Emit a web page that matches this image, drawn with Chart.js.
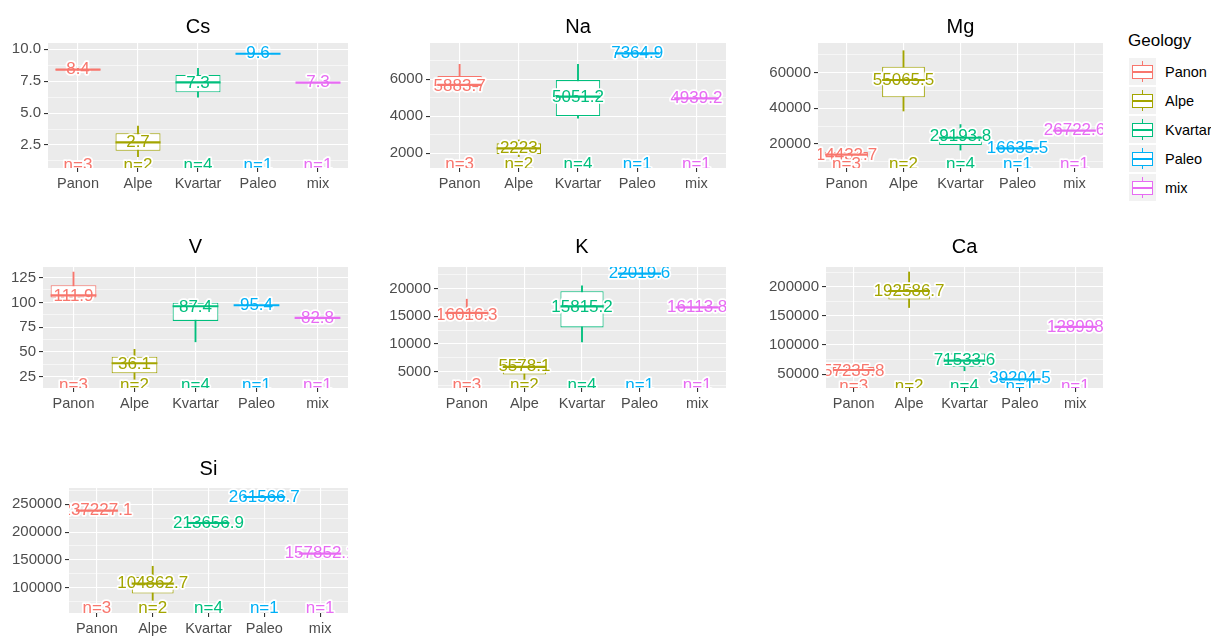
<!DOCTYPE html>
<html>
<head>
<meta charset="utf-8">
<script src="https://cdn.jsdelivr.net/npm/chart.js@4.4.1/dist/chart.umd.min.js"></script>
<style>
  body { margin: 0; background: #fff; width: 1211px; height: 637px; overflow: hidden; position: relative;
         font-family: "Liberation Sans", Arial, sans-serif; }
  canvas { position: absolute; }
  #legend { position: absolute; left: 1128px; top: 29px; color: #000; }
  #legend .lt { font-size: 17px; height: 24px; line-height: 24px; margin-bottom: 4px; }
  #legend .row { height: 29px; display: flex; align-items: center; }
  #legend .key { position: relative; width: 27px; height: 27px; margin-left: 1px; background: #F2F2F2; }
  #legend .wh { position: absolute; left: 13px; top: 3px; width: 1px; height: 21px; }
  #legend .bx { position: absolute; left: 3px; top: 7px; width: 21px; height: 14px; box-sizing: border-box;
                border: 1px solid; background: #fff; }
  #legend .md { position: absolute; left: 0; right: 0; top: 5px; height: 1.5px; }
  #legend span { margin-left: 9px; font-size: 14.5px; }
</style>
</head>
<body>
<div id="legend"></div>
<script>
const groups = ['Panon', 'Alpe', 'Kvartar', 'Paleo', 'mix']
const counts = [3, 2, 4, 1, 1]
const colors = ['#F8766D', '#A3A500', '#00BF7D', '#00B0F6', '#E76BF3']

// each box: [lower whisker, q1, median, q3, upper whisker]
const csBoxes = [[8.3, 8.35, 8.4, 8.45, 8.5], [1.58, 2.05, 2.71, 3.42, 3.99], [6.24, 6.63, 7.4, 7.99, 8.51], [9.65, 9.65, 9.65, 9.65, 9.65], [7.38, 7.38, 7.38, 7.38, 7.38]]
const csLabels = ['8.4', '2.7', '7.3', '9.6', '7.3']
const csLabelY = [8.4, 2.71, 7.3, 9.65, 7.38]
const csTicks = [2.5, 5.0, 7.5, 10.0]
const csRange = [0.7, 10.49]
const csCountY = 0.93

const naBoxes = [[5560, 5580, 5700, 6180, 6810], [1820, 1960, 2270, 2540, 2720], [3892, 4016, 5060, 5960, 6811], [7405, 7405, 7405, 7405, 7405], [4973, 4973, 4973, 4973, 4973]]
const naLabels = ['5883.7', '2223', '5051.2', '7364.9', '4939.2']
const naLabelY = [5620, 2270, 5051, 7405, 4973]
const naTicks = [2000, 4000, 6000]
const naRange = [1205, 7962]
const naCountY = 1405

const mgBoxes = [[10500, 12000, 14000, 15500, 16500], [38510, 46200, 55900, 63370, 72340], [16600, 19400, 23500, 24300, 30900], [17600, 17600, 17600, 17600, 17600], [27460, 27460, 27460, 27460, 27460]]
const mgLabels = ['14432.7', '55065.5', '29193.8', '16635.5', '26722.6']
const mgLabelY = [13830, 55900, 24500, 17600, 27460]
const mgTicks = [20000, 40000, 60000]
const mgRange = [6540, 76660]
const mgCountY = 8440

const vBoxes = [[104.9, 104.9, 107, 117.3, 130.6], [22.4, 28.4, 38.6, 45.2, 52.6], [60.2, 81.3, 96.1, 99.7, 99.7], [97.1, 97.1, 97.1, 97.1, 97.1], [84.4, 84.4, 84.4, 84.4, 84.4]]
const vLabels = ['111.9', '36.1', '87.4', '95.4', '82.8']
const vLabelY = [106, 38, 95.4, 97.1, 84.4]
const vTicks = [25, 50, 75, 100, 125]
const vRange = [13.6, 135.7]
const vCountY = 16.7

const kBoxes = [[14800, 15000, 15600, 16200, 18080], [3630, 4500, 5900, 6800, 7580], [10400, 12990, 16800, 19510, 20470], [22700, 22700, 22700, 22700, 22700], [16600, 16600, 16600, 16600, 16600]]
const kLabels = ['16016.3', '5578.1', '15815.2', '22019.6', '16113.8']
const kLabelY = [15200, 5900, 16700, 22700, 16600]
const kTicks = [5000, 10000, 15000, 20000]
const kRange = [2080, 23880]
const kCountY = 2620

const caBoxes = [[48000, 51000, 57000, 62000, 66000], [164600, 178300, 193100, 200000, 225800], [55700, 62500, 73000, 85600, 85600], [41000, 41000, 41000, 41000, 41000], [131300, 131300, 131300, 131300, 131300]]
const caLabels = ['57235.8', '192586.7', '71533.6', '39204.5', '128998']
const caLabelY = [54000, 193100, 74000, 42500, 131300]
const caTicks = [50000, 100000, 150000, 200000]
const caRange = [26000, 234400]
const caCountY = 28200

const siBoxes = [[236000, 237000, 238500, 240000, 241000], [77100, 89200, 107200, 119200, 138400], [214000, 215500, 216300, 217000, 218500], [263100, 263100, 263100, 263100, 263100], [161200, 161200, 161200, 161200, 161200]]
const siLabels = ['237227.1', '104862.7', '213656.9', '261566.7', '157852.1']
const siLabelY = [239200, 107200, 216300, 263100, 161200]
const siTicks = [100000, 150000, 200000, 250000]
const siRange = [54300, 279300]
const siCountY = 62300

const elements = [
  { name: 'Cs', boxes: csBoxes, labels: csLabels, labelY: csLabelY, ticks: csTicks, range: csRange, countY: csCountY, digits: 1 },
  { name: 'Na', boxes: naBoxes, labels: naLabels, labelY: naLabelY, ticks: naTicks, range: naRange, countY: naCountY, digits: 0 },
  { name: 'Mg', boxes: mgBoxes, labels: mgLabels, labelY: mgLabelY, ticks: mgTicks, range: mgRange, countY: mgCountY, digits: 0 },
  { name: 'V', boxes: vBoxes, labels: vLabels, labelY: vLabelY, ticks: vTicks, range: vRange, countY: vCountY, digits: 0 },
  { name: 'K', boxes: kBoxes, labels: kLabels, labelY: kLabelY, ticks: kTicks, range: kRange, countY: kCountY, digits: 0 },
  { name: 'Ca', boxes: caBoxes, labels: caLabels, labelY: caLabelY, ticks: caTicks, range: caRange, countY: caCountY, digits: 0 },
  { name: 'Si', boxes: siBoxes, labels: siLabels, labelY: siLabelY, ticks: siTicks, range: siRange, countY: siCountY, digits: 0 },
]

// panel placement (canvas left, plot left/right/top/bottom, gap under title)
const panels = [
  { x0: 0, left: 48, right: 348, top: 43, bottom: 168, gap: 4 },
  { x0: 370, left: 430, right: 726, top: 43, bottom: 168, gap: 4 },
  { x0: 750, left: 818, right: 1103, top: 43, bottom: 168, gap: 4 },
  { x0: 0, left: 43, right: 348, top: 267, bottom: 388, gap: 8 },
  { x0: 370, left: 438, right: 726, top: 267, bottom: 388, gap: 8 },
  { x0: 750, left: 826, right: 1103, top: 267, bottom: 388, gap: 8 },
  { x0: 0, left: 69, right: 348, top: 488, bottom: 613, gap: 7 },
]

const FONT = '"Liberation Sans", Arial, sans-serif'
const X_H = 26

// major ticks plus minor ones half way between
function buildTicks(major, range) {
  const step = major[1] - major[0]
  const out = []
  for (let v = major[0] - step / 2; v <= major[major.length - 1] + step / 2 + 1e-9; v += step / 2) {
    if (v < range[0] || v > range[1]) continue
    const isMajor = major.some(m => Math.abs(m - v) < step * 1e-6)
    out.push({ value: v, minor: !isMajor })
  }
  return out
}

function extras(el) {
  return {
    id: 'extras' + el.name,
    beforeDraw(chart) {
      const a = chart.chartArea
      const ctx = chart.ctx
      ctx.save()
      ctx.fillStyle = '#EBEBEB'
      ctx.fillRect(a.left, a.top, a.right - a.left, a.bottom - a.top)
      ctx.restore()
    },
    afterDatasetsDraw(chart) {
      const a = chart.chartArea
      const ctx = chart.ctx
      const xs = chart.scales.x
      const ys = chart.scales.y
      ctx.save()
      ctx.beginPath()
      ctx.rect(a.left, a.top, a.right - a.left, a.bottom - a.top)
      ctx.clip()
      ctx.font = '17px ' + FONT
      ctx.textAlign = 'center'
      ctx.textBaseline = 'middle'
      ctx.lineJoin = 'round'
      const halo = (txt, x, y, c) => {
        ctx.lineWidth = 3.5
        ctx.strokeStyle = '#fff'
        ctx.strokeText(txt, x, y)
        ctx.fillStyle = c
        ctx.fillText(txt, x, y)
      }
      groups.forEach((g, i) => {
        const x = xs.getPixelForValue(i)
        halo(el.labels[i], x, ys.getPixelForValue(el.labelY[i]), colors[i])
        halo('n=' + counts[i], x, ys.getPixelForValue(el.countY), colors[i])
      })
      // median lines on top of the labels
      groups.forEach((g, i) => {
        const x = xs.getPixelForValue(i)
        const half = xs.getPixelForValue(i + 0.375) - x
        const y = ys.getPixelForValue(el.boxes[i][2])
        ctx.strokeStyle = colors[i]
        ctx.lineWidth = 2.2
        ctx.beginPath()
        ctx.moveTo(x - half, y)
        ctx.lineTo(x + half, y)
        ctx.stroke()
      })
      ctx.restore()
    },
  }
}

elements.forEach((el, k) => {
  const p = panels[k]
  const canvas = document.createElement('canvas')
  const top = p.top - (2 + 24 + p.gap)
  canvas.width = p.right - p.x0
  canvas.height = p.bottom + X_H - top
  canvas.style.left = p.x0 + 'px'
  canvas.style.top = top + 'px'
  document.body.appendChild(canvas)

  new Chart(canvas, {
    type: 'bar',
    data: {
      labels: groups,
      datasets: [
        {
          data: el.boxes.map(b => (b[1] === b[3] ? null : [b[1], b[3]])),
          backgroundColor: '#fff',
          borderColor: colors,
          borderWidth: 1.1,
          borderSkipped: false,
          barPercentage: 0.75,
          categoryPercentage: 1,
          grouped: false,
        },
        {
          data: el.boxes.map(b => (b[0] === b[4] ? null : [b[0], b[4]])),
          backgroundColor: colors,
          barThickness: 1.2,
          grouped: false,
        },
      ],
    },
    options: {
      responsive: false,
      animation: false,
      layout: { padding: 0 },
      plugins: {
        legend: { display: false },
        tooltip: { enabled: false },
        title: {
          display: true,
          text: el.name,
          fullSize: false,
          color: '#000',
          font: { family: FONT, size: 20, weight: 'normal', lineHeight: 1.2 },
          padding: { top: 2, bottom: p.gap },
        },
      },
      scales: {
        x: {
          afterFit: s => { s.height = X_H },
          grid: { color: '#fff', lineWidth: 1.1, offset: false, tickColor: '#333', tickLength: 4 },
          border: { display: false },
          ticks: { color: '#4D4D4D', font: { family: FONT, size: 14.5 }, padding: 3, autoSkip: false, maxRotation: 0 },
        },
        y: {
          min: el.range[0],
          max: el.range[1],
          afterFit: s => { s.width = p.left - p.x0 },
          afterBuildTicks: s => { s.ticks = buildTicks(el.ticks, el.range) },
          grid: {
            color: '#fff',
            lineWidth: c => (c.tick && c.tick.minor ? 0.55 : 1.1),
            tickColor: c => (c.tick && c.tick.minor ? 'rgba(0,0,0,0)' : '#333'),
            tickLength: 4,
          },
          border: { display: false },
          ticks: {
            color: '#4D4D4D',
            font: { family: FONT, size: 15 },
            padding: 3,
            autoSkip: false,
            includeBounds: false,
            callback: (v, i, ts) => (ts[i].minor ? '' : Number(v).toFixed(el.digits)),
          },
        },
      },
    },
    plugins: [extras(el)],
  })
})

const legend = document.getElementById('legend')
legend.innerHTML = '<div class="lt">Geology</div>' + groups.map((g, i) =>
  '<div class="row"><div class="key">' +
  '<div class="wh" style="background:' + colors[i] + '"></div>' +
  '<div class="bx" style="border-color:' + colors[i] + '"><div class="md" style="background:' + colors[i] + '"></div></div>' +
  '</div><span>' + g + '</span></div>').join('')
</script>
</body>
</html>
